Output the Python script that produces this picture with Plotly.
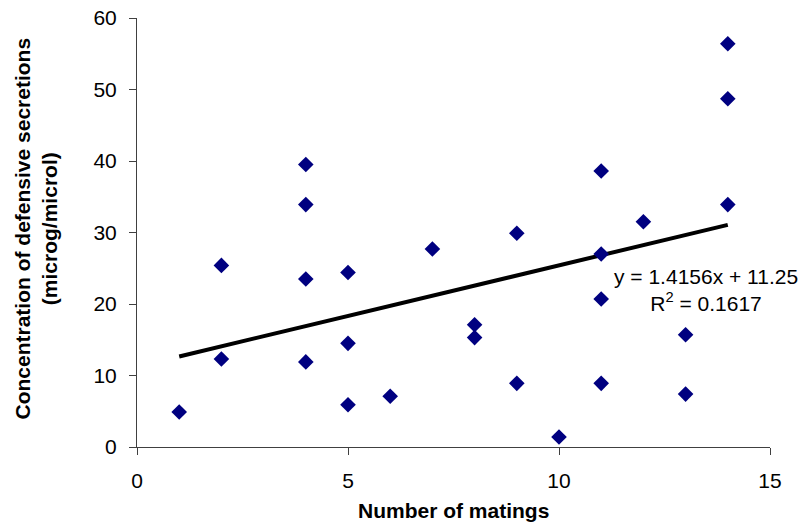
import plotly.graph_objects as go

# Number of matings per female and concentration of defensive secretions
matings = [1, 2, 2, 4, 4, 4, 4, 5, 5, 5, 6, 7, 8, 8, 9, 9, 10,
           11, 11, 11, 11, 12, 13, 13, 14, 14, 14]
concentration = [4.9, 25.4, 12.3, 39.5, 33.9, 23.5, 11.9, 24.4, 14.5, 5.9,
                 7.1, 27.7, 17.1, 15.3, 29.9, 8.9, 1.4,
                 38.6, 27.0, 20.7, 8.9, 31.5, 15.7, 7.4, 56.4, 48.7, 33.9]

# Linear trendline coefficients
slope = 1.4156
intercept = 11.25
r_squared = 0.1617

x_ticks = [0, 5, 10, 15]
y_ticks = [0, 10, 20, 30, 40, 50, 60]

x_fit = [min(matings), max(matings)]
y_fit = [slope * v + intercept for v in x_fit]

font_family = "Liberation Sans, Arial, sans-serif"
axis_color = "#404040"

fig = go.Figure()
fig.add_trace(go.Scatter(
    x=x_fit, y=y_fit, mode="lines",
    line=dict(color="black", width=4),
    hoverinfo="skip", showlegend=False,
))
fig.add_trace(go.Scatter(
    x=matings, y=concentration, mode="markers",
    marker=dict(symbol="diamond", size=12, color="#000080",
                line=dict(width=0)),
    showlegend=False,
))

fig.update_layout(
    width=809, height=532,
    margin=dict(l=137, r=39, t=18, b=85),
    paper_bgcolor="white", plot_bgcolor="white",
    font=dict(family=font_family, size=21, color="black"),
    xaxis=dict(
        range=[0, 15], tickvals=x_ticks, showgrid=False, zeroline=False,
        showline=True, linecolor=axis_color, linewidth=1,
        ticks="outside", ticklen=7, tickcolor=axis_color,
        tickfont=dict(size=21), ticklabelstandoff=8, automargin=False,
    ),
    yaxis=dict(
        range=[0, 60], tickvals=y_ticks, showgrid=False, zeroline=False,
        showline=True, linecolor=axis_color, linewidth=1,
        ticks="outside", ticklen=7, tickcolor=axis_color,
        tickfont=dict(size=21), ticklabelstandoff=8, automargin=False,
    ),
    annotations=[
        dict(text="<b>Number of matings</b>", xref="paper", yref="paper",
             x=0.5, y=0, yshift=-63, xanchor="center", yanchor="middle",
             showarrow=False, font=dict(size=21)),
        dict(text="<b>Concentration of defensive secretions<br>(microg/microl)</b>",
             xref="paper", yref="paper", x=0, xshift=-102, y=0.5, yshift=4,
             xanchor="center", yanchor="middle", textangle=-90,
             showarrow=False, font=dict(size=21)),
        dict(text=f"y = {slope}x + {intercept}<br>R<sup>2</sup> = {r_squared}",
             xref="x", yref="y", x=13.48, y=22.0,
             xanchor="center", yanchor="middle", align="center",
             showarrow=False, font=dict(size=21)),
    ],
)

fig.write_html("out.html")
